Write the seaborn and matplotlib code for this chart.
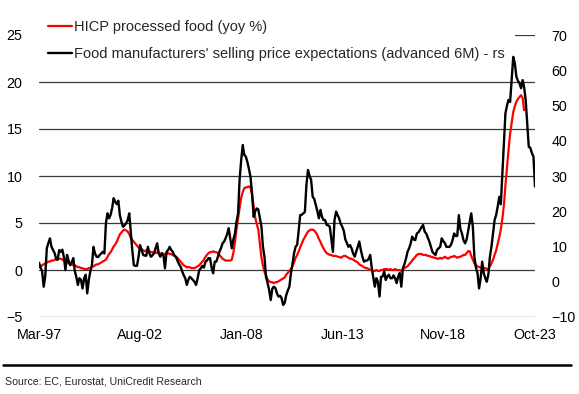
import pandas as pd
import seaborn as sns
import matplotlib.pyplot as plt
from matplotlib.lines import Line2D

# Monthly data, both series start Mar-97
start_month = "1997-03-01"

# HICP processed food (yoy %), left axis, Mar-97 .. Mar-23
hicp_yoy = [
    0.3, 0.4, 0.5, 0.6, 0.7, 0.8, 0.9, 0.9, 1.0, 1.0,
    1.1, 1.1, 1.2, 1.2, 1.2, 1.1, 1.0, 1.0, 0.9, 0.7, 0.7, 0.6,
    0.5, 0.5, 0.4, 0.3, 0.3, 0.2, 0.2, 0.1, 0.1, 0.1, 0.2, 0.2,
    0.3, 0.4, 0.5, 0.6, 0.6, 0.7, 0.8, 0.9, 1.0, 1.1, 1.4, 1.7,
    1.9, 2.2, 2.5, 2.7, 3.0, 3.4, 3.8, 4.0, 4.2, 4.3, 4.2, 4.1,
    3.8, 3.4, 3.2, 3.0, 2.8, 2.6, 2.4, 2.3, 2.2, 2.1, 2.0, 2.1,
    2.0, 2.0, 1.9, 1.9, 1.8, 1.8, 1.9, 1.8, 1.7, 1.8, 1.7, 1.7,
    1.7, 1.8, 1.7, 1.7, 1.6, 1.5, 1.4, 1.3, 1.1, 0.9, 0.7, 0.5,
    0.4, 0.3, 0.3, 0.3, 0.2, 0.2, 0.2, 0.3, 0.4, 0.5, 0.7, 0.9,
    1.1, 1.4, 1.6, 1.8, 1.9, 1.9, 2.0, 1.9, 1.9, 1.8, 1.6, 1.4,
    1.2, 1.1, 1.0, 1.0, 1.0, 1.0, 1.1, 1.8, 3.0, 4.3, 5.5, 6.6,
    7.7, 8.3, 8.7, 8.8, 8.8, 8.9, 8.8, 8.0, 6.8, 5.6, 4.9, 4.3,
    2.8, 1.3, 0.5, -0.2, -0.6, -1.0, -1.2, -1.3, -1.3, -1.4, -1.3, -1.3,
    -1.2, -1.1, -1.0, -0.9, -0.8, -0.5, -0.3, -0.1, 0.1, 0.4, 0.8, 1.3,
    1.6, 2.0, 2.4, 2.8, 3.2, 3.5, 3.8, 4.1, 4.2, 4.3, 4.3, 4.2,
    4.0, 3.7, 3.3, 3.0, 2.6, 2.3, 2.0, 1.8, 1.7, 1.6, 1.6, 1.5,
    1.5, 1.5, 1.4, 1.4, 1.3, 1.4, 1.5, 1.5, 1.4, 1.3, 1.2, 1.2,
    1.1, 1.0, 0.9, 0.8, 0.6, 0.5, 0.4, 0.3, 0.2, 0.2, 0.1, 0.0,
    0.0, -0.1, -0.1, 0.0, -0.1, -0.1, 0.0, 0.0, 0.1, 0.1, 0.1, 0.0,
    0.1, 0.0, 0.0, 0.1, 0.0, 0.0, 0.0, -0.1, 0.1, 0.2, 0.3, 0.4,
    0.6, 0.8, 1.0, 1.2, 1.4, 1.6, 1.7, 1.7, 1.7, 1.6, 1.6, 1.6,
    1.5, 1.5, 1.4, 1.4, 1.3, 1.3, 1.2, 1.2, 1.3, 1.2, 1.3, 1.4,
    1.3, 1.2, 1.3, 1.4, 1.4, 1.5, 1.4, 1.3, 1.4, 1.4, 1.5, 1.6,
    1.6, 1.8, 2.0, 2.0, 1.5, 1.1, 0.7, 0.5, 0.4, 0.3, 0.3, 0.2,
    0.2, 0.2, 0.1, 0.1, 0.4, 0.7, 1.1, 1.6, 2.1, 2.8, 3.5, 4.3,
    5.5, 7.0, 9.0, 11.0, 12.8, 14.5, 15.6, 16.8, 17.4, 17.9, 18.2, 18.4,
    18.6, 18.3, 17.0,
]

# Selling price expectations (advanced 6M), right axis, Mar-97 .. Oct-23
expectations = [
    5.4, 4.0, 3.0, -1.4, 1.5, 9.5, 11.0, 12.3, 9.9, 9.0,
    8.1, 6.5, 6.2, 9.0, 8.5, 9.1, 7.0, 3.3, 7.6, 6.0, 4.7, 5.5,
    6.7, 3.0, 1.4, -0.9, 1.0, 0.5, -1.9, 1.0, 2.0, -3.3, 0.5, 3.0,
    4.7, 9.9, 8.0, 7.1, 7.0, 7.6, 8.0, 8.5, 8.0, 16.6, 19.4, 18.0,
    19.0, 21.0, 23.7, 22.7, 22.0, 23.0, 18.9, 17.0, 15.6, 16.0, 16.6, 17.5,
    19.4, 14.0, 9.0, 4.7, 4.5, 4.5, 7.0, 10.4, 9.0, 7.6, 7.4, 7.4,
    9.9, 8.0, 7.1, 7.5, 8.1, 9.5, 10.9, 8.0, 7.1, 8.1, 7.5, 3.8,
    8.5, 9.0, 9.9, 9.0, 8.5, 7.5, 7.1, 6.0, 5.0, 4.3, 3.0, 1.9,
    1.0, -0.9, 0.5, 1.4, 1.0, 0.5, 0.0, -0.9, 1.0, 3.3, 3.8, 4.5,
    4.0, 5.7, 6.0, 6.7, 6.7, 4.0, 2.4, 5.7, 5.7, 7.0, 8.5, 9.5,
    10.9, 11.4, 12.3, 13.5, 15.2, 12.3, 9.5, 12.0, 13.7, 17.0, 19.4, 28.9,
    34.5, 38.8, 36.0, 35.5, 34.0, 32.0, 29.8, 25.0, 18.4, 20.0, 20.8, 20.5,
    18.0, 15.6, 10.0, 7.1, 1.4, -0.4, -2.3, -5.2, -2.0, -1.4, -1.8, -3.3,
    -4.2, -4.0, -4.6, -6.6, -6.0, -3.8, -2.5, -1.4, 2.4, 5.0, 8.1, 9.9,
    10.5, 14.7, 18.9, 19.0, 19.4, 19.8, 27.4, 31.7, 30.0, 28.9, 24.1, 23.5,
    21.8, 20.0, 18.0, 20.4, 18.4, 17.5, 17.5, 16.1, 16.0, 15.6, 12.0, 8.5,
    17.5, 19.9, 19.0, 18.0, 16.5, 15.6, 14.5, 12.0, 10.9, 9.9, 10.4, 9.5,
    8.0, 7.1, 8.5, 9.9, 11.4, 9.0, 7.1, 5.7, 6.0, 6.0, 6.5, 7.6,
    3.8, 1.0, -1.4, 1.0, 0.0, -4.2, 1.4, 1.5, 2.9, 0.5, 1.5, 2.0,
    1.0, 1.0, 1.8, 1.0, -0.4, 1.5, 2.5, -1.4, 3.8, 5.0, 6.6, 8.5,
    9.5, 10.9, 12.8, 12.0, 11.8, 13.7, 14.0, 14.7, 15.5, 16.1, 14.2, 13.7,
    12.5, 11.4, 10.0, 8.5, 8.0, 7.6, 9.0, 9.5, 9.9, 12.3, 11.5, 11.0,
    9.9, 9.9, 9.9, 10.5, 11.8, 13.7, 13.0, 13.0, 18.9, 15.0, 13.7, 11.8,
    10.9, 12.0, 14.5, 17.0, 19.4, 15.6, 7.1, 4.0, 2.4, -1.9, 1.0, 5.7,
    2.4, 1.0, 0.0, 2.0, 7.1, 10.0, 13.7, 17.5, 19.0, 21.3, 24.1, 22.0,
    30.8, 40.2, 47.8, 50.0, 51.6, 51.0, 57.2, 63.8, 62.0, 58.2, 57.0, 56.3,
    54.9, 57.2, 55.3, 51.6, 45.0, 38.3, 38.0, 36.5, 35.5, 27.0,
]

tick_dates = ["1997-03-01", "2002-08-01", "2008-01-01", "2013-06-01", "2018-11-01", "2023-10-01"]
tick_labels = ["Mar-97", "Aug-02", "Jan-08", "Jun-13", "Nov-18", "Oct-23"]

hicp = pd.DataFrame({"date": pd.date_range(start_month, periods=len(hicp_yoy), freq="MS"),
                     "value": hicp_yoy})
expect = pd.DataFrame({"date": pd.date_range(start_month, periods=len(expectations), freq="MS"),
                       "value": expectations})

sns.set_style("white")
plt.rcParams["font.family"] = ["Liberation Sans", "DejaVu Sans"]

fig = plt.figure(figsize=(5.79, 3.94), dpi=100)
ax = fig.add_axes([39 / 579, 1 - 317 / 394, 496 / 579, 282 / 394])
ax2 = ax.twinx()

sns.lineplot(data=hicp, x="date", y="value", ax=ax, color="#ff0000", linewidth=1.6,
             label="HICP processed food (yoy %)")
sns.lineplot(data=expect, x="date", y="value", ax=ax2, color="black", linewidth=1.7,
             label="Food manufacturers' selling price expectations (advanced 6M) - rs")

ax.set_xlim(pd.Timestamp("1997-03-01"), pd.Timestamp("2023-10-01"))
ax.set_ylim(-5, 25)
ax2.set_ylim(-10, 70)
ax.set_yticks(range(-5, 30, 5))
ax2.set_yticks(range(-10, 80, 10))
ax.set_xticks(pd.to_datetime(tick_dates))
ax.set_xticklabels(tick_labels)
ax.set_xlabel("")
ax.set_ylabel("")
ax2.set_ylabel("")

ax.yaxis.grid(True, color="#3a3a3a", linewidth=0.9)
ax.xaxis.grid(False)
ax.set_axisbelow(True)
for a in (ax, ax2):
    for s in a.spines.values():
        s.set_visible(False)
    a.tick_params(length=0, labelsize=10.3, colors="black")
ax.tick_params(axis="y", pad=12)
ax.tick_params(axis="x", pad=8)
ax2.tick_params(axis="y", pad=12)

# one legend for both series; placed on the lower axes so its white box
# hides the top gridline but stays under the black line
h1, l1 = ax.get_legend_handles_labels()
h2, l2 = ax2.get_legend_handles_labels()
for a in (ax, ax2):
    if a.get_legend():
        a.get_legend().remove()
ax.legend(h1 + h2, l1 + l2, loc="upper left",
          bbox_to_anchor=(38 / 579, 1 - 10 / 394), bbox_transform=fig.transFigure,
          borderaxespad=0, borderpad=0.7, fontsize=10.5, frameon=True,
          facecolor="white", edgecolor="none", framealpha=1, fancybox=False,
          handlelength=1.65, handletextpad=0.15, labelspacing=0.85)

# footer rule and source
fig.add_artist(Line2D([3 / 579, 571 / 579], [1 - 365 / 394] * 2, color="black",
                      linewidth=1.8, transform=fig.transFigure))
fig.text(5 / 579, 1 - 381 / 394, "Source: EC, Eurostat, UniCredit Research",
         fontsize=7.6, va="center", ha="left")

fig.savefig("out.png", dpi=100)
